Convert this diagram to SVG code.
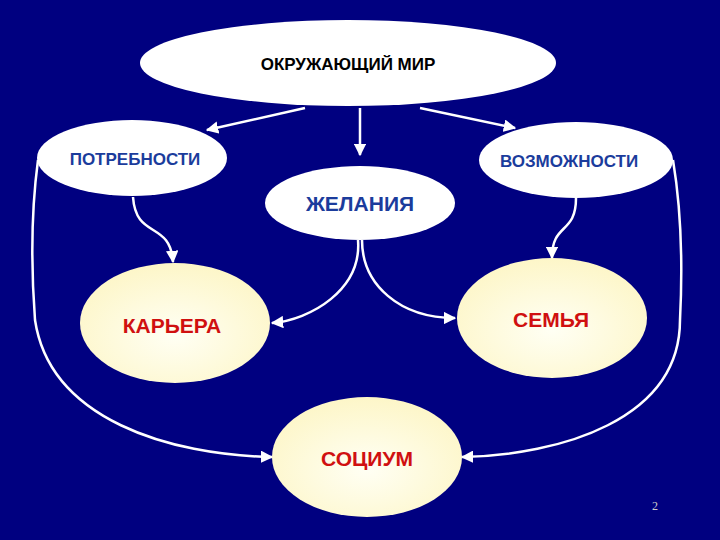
<svg xmlns="http://www.w3.org/2000/svg" width="720" height="540" viewBox="0 0 720 540">
<style>
.w{fill:#fff}
.b{fill:url(#g)}
.t{font-family:"Liberation Sans",Arial,sans-serif;font-weight:bold;text-anchor:middle}
.s{font-size:17px;fill:#1b3c9c}
.r{font-size:21px;fill:#d01010}
.c{fill:none;stroke:#fff;stroke-width:2.5;marker-end:url(#a)}
</style>
<defs>
<radialGradient id="g" cx="0.5" cy="0.6" r="0.6"><stop offset="0" stop-color="#fffff4"/><stop offset="1" stop-color="#fdf6c8"/></radialGradient>
<marker id="a" viewBox="0 0 10 10" refX="9" refY="5" markerWidth="5" markerHeight="5" orient="auto"><path d="M0,0L10,5L0,10z" fill="#fff"/></marker>
</defs>
<rect width="720" height="540" fill="#000080"/>
<g id="connectors">
<path class="c" d="M305,108L207,130"/>
<path class="c" d="M360,108L360,155"/>
<path class="c" d="M420,108L515,128"/>
<path class="c" d="M133,197C136,240 170,220 173,262"/>
<path class="c" d="M576,198C576,235 552,222 552,258"/>
<path class="c" d="M358,240C362,290 310,320 272,323"/>
<path class="c" d="M362,240C362,285 400,318 455,318"/>
<path class="c" d="M38,160C30,220 32,280 35,320C50,420 170,455 272,457"/>
<path class="c" d="M673,160C683,220 682,280 680,320C680,420 560,455 462,457"/>
</g>
<g id="mir"><ellipse class="w" cx="348" cy="63" rx="208" ry="43"/><text class="t" x="348" y="70" font-size="17">ОКРУЖАЮЩИЙ МИР</text></g>
<g id="potr"><ellipse class="w" cx="132" cy="158" rx="95" ry="38"/><text class="t s" x="135" y="165">ПОТРЕБНОСТИ</text></g>
<g id="vozm"><ellipse class="w" cx="576" cy="160" rx="97" ry="38"/><text class="t s" x="569" y="167">ВОЗМОЖНОСТИ</text></g>
<g id="zhel"><ellipse class="w" cx="360" cy="203" rx="95" ry="37"/><text class="t" x="360" y="211" font-size="21" fill="#1b3c9c" font-weight="normal">ЖЕЛАНИЯ</text></g>
<g id="kar"><ellipse class="b" cx="175" cy="323" rx="95" ry="60"/><text class="t r" x="172" y="333" font-weight="normal">КАРЬЕРА</text></g>
<g id="sem"><ellipse class="b" cx="552" cy="318" rx="95" ry="60"/><text class="t r" x="551" y="327">СЕМЬЯ</text></g>
<g id="soc"><ellipse class="b" cx="367" cy="457" rx="95" ry="60"/><text class="t r" x="367" y="466">СОЦИУМ</text></g>
<text x="655" y="510" font-family="Liberation Serif,serif" font-size="12" fill="#ccc" text-anchor="middle">2</text>
</svg>
